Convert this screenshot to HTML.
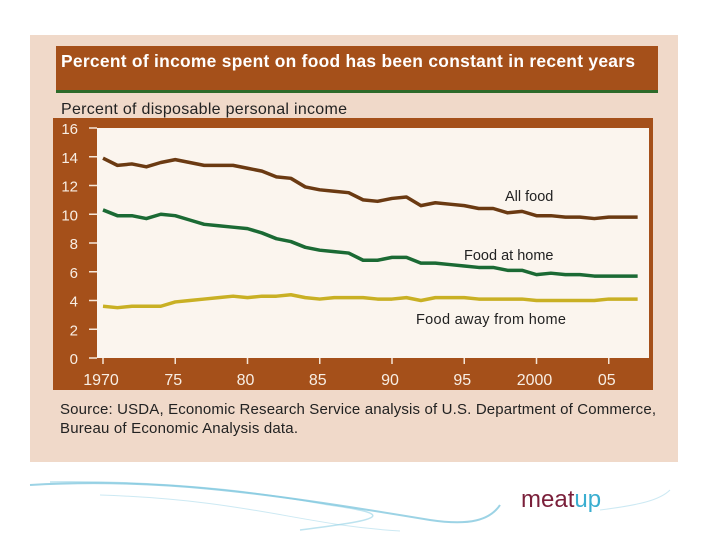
<!DOCTYPE html>
<html><head><meta charset="utf-8"><style>
body{margin:0;width:720px;height:540px;background:#fff;overflow:hidden;font-family:"Liberation Sans",sans-serif}
</style></head><body>
<svg width="720" height="540" xmlns="http://www.w3.org/2000/svg">
<rect x="30" y="35" width="648" height="427" fill="#f0d9c9"/>
<rect x="56" y="46" width="602" height="44" fill="#a5501a"/>
<rect x="56" y="90" width="602" height="3" fill="#2d6a2a"/>
<text x="61" y="67" fill="#fff" font-size="17.4" font-weight="bold" textLength="574">Percent of income spent on food has been constant in recent years</text>
<text x="61" y="114" fill="#222" font-size="16" textLength="286">Percent of disposable personal income</text>
<rect x="53" y="118" width="600" height="272" fill="#a5501a"/>
<rect x="97" y="128" width="552" height="230" fill="#fbf5ee"/>
<g id="axes"></g>
<g id="series"></g>
<text x="505" y="201" font-size="14.5" fill="#222">All food</text>
<text x="464" y="260" font-size="14.5" fill="#222">Food at home</text>
<text x="416" y="324" font-size="14.5" fill="#222" textLength="150">Food away from home</text>
<text x="60" y="414" font-size="15" fill="#222" textLength="596">Source: USDA, Economic Research Service analysis of U.S. Department of Commerce,</text>
<text x="60" y="433" font-size="15" fill="#222" textLength="238">Bureau of Economic Analysis data.</text>
<g fill="none">
<path d="M30 485 C150 478 250 490 430 520 C470 526 490 520 500 505" stroke="#3aa8cc" stroke-width="2" opacity="0.5"/>
<path d="M50 482 C200 480 300 500 330 505 C400 515 380 520 300 530" stroke="#7cc8e0" stroke-width="1.5" opacity="0.5"/>
<path d="M100 495 C250 500 300 525 400 531" stroke="#9ad4e8" stroke-width="1" opacity="0.5"/>
<path d="M600 510 C640 505 660 500 670 490" stroke="#9ad4e8" stroke-width="1" opacity="0.5"/>
</g>
<text x="521" y="507" font-size="24" fill="#7a1f3a">meat<tspan fill="#3aaed0">up</tspan></text>
</svg>
<script>
const years=[1970,1971,1972,1973,1974,1975,1976,1977,1978,1979,1980,1981,1982,1983,1984,1985,1986,1987,1988,1989,1990,1991,1992,1993,1994,1995,1996,1997,1998,1999,2000,2001,2002,2003,2004,2005,2006,2007];
const allFood=[13.9,13.4,13.5,13.3,13.6,13.8,13.6,13.4,13.4,13.4,13.2,13.0,12.6,12.5,11.9,11.7,11.6,11.5,11.0,10.9,11.1,11.2,10.6,10.8,10.7,10.6,10.4,10.4,10.1,10.2,9.9,9.9,9.8,9.8,9.7,9.8,9.8,9.8];
const foodHome=[10.3,9.9,9.9,9.7,10.0,9.9,9.6,9.3,9.2,9.1,9.0,8.7,8.3,8.1,7.7,7.5,7.4,7.3,6.8,6.8,7.0,7.0,6.6,6.6,6.5,6.4,6.3,6.3,6.1,6.1,5.8,5.9,5.8,5.8,5.7,5.7,5.7,5.7];
const foodAway=[3.6,3.5,3.6,3.6,3.6,3.9,4.0,4.1,4.2,4.3,4.2,4.3,4.3,4.4,4.2,4.1,4.2,4.2,4.2,4.1,4.1,4.2,4.0,4.2,4.2,4.2,4.1,4.1,4.1,4.1,4.0,4.0,4.0,4.0,4.0,4.1,4.1,4.1];
const yTicks=[0,2,4,6,8,10,12,14,16];
const xTickYears=[1970,1975,1980,1985,1990,1995,2000,2005];
const xTickLabels=["1970","75","80","85","90","95","2000","05"];
const NS="http://www.w3.org/2000/svg";
const x=v=>103+(v-1970)*14.45;
const y=v=>358-v*14.375;
const ax=document.getElementById('axes'),se=document.getElementById('series');
function mk(t,a,p){const e=document.createElementNS(NS,t);for(const k in a)e.setAttribute(k,a[k]);p.appendChild(e);return e;}
yTicks.forEach(t=>{
 const l=mk('line',{x1:89,x2:97,y1:y(t),y2:y(t),stroke:'#f5e6d8','stroke-width':1.5},ax);
 
 
 const tx=mk('text',{x:78,y:y(t)+6,'font-size':15,fill:'#f8eee4','text-anchor':'end'},ax);
 tx.textContent=t;
 
 
});
xTickYears.forEach((t,i)=>{
 const l=mk('line',{x1:x(t),x2:x(t),y1:358,y2:364,stroke:'#f5e6d8','stroke-width':1.5},ax);
 
 
 const tx=mk('text',{x:x(t)-2,y:385,'font-size':16,fill:'#f8eee4','text-anchor':'middle'},ax);
 tx.textContent=xTickLabels[i];
 
 
});
[[allFood,'#6b3a12','line-all-food'],[foodHome,'#1b6a34','line-food-at-home'],[foodAway,'#c9b024','line-food-away']].forEach(([d,c,n])=>{
 const p=mk('polyline',{points:d.map((v,i)=>x(years[i])+','+y(v)).join(' '),fill:'none',stroke:c,'stroke-width':3.5,'stroke-linejoin':'round'},se);
 
 
});
</script>
</body></html>
